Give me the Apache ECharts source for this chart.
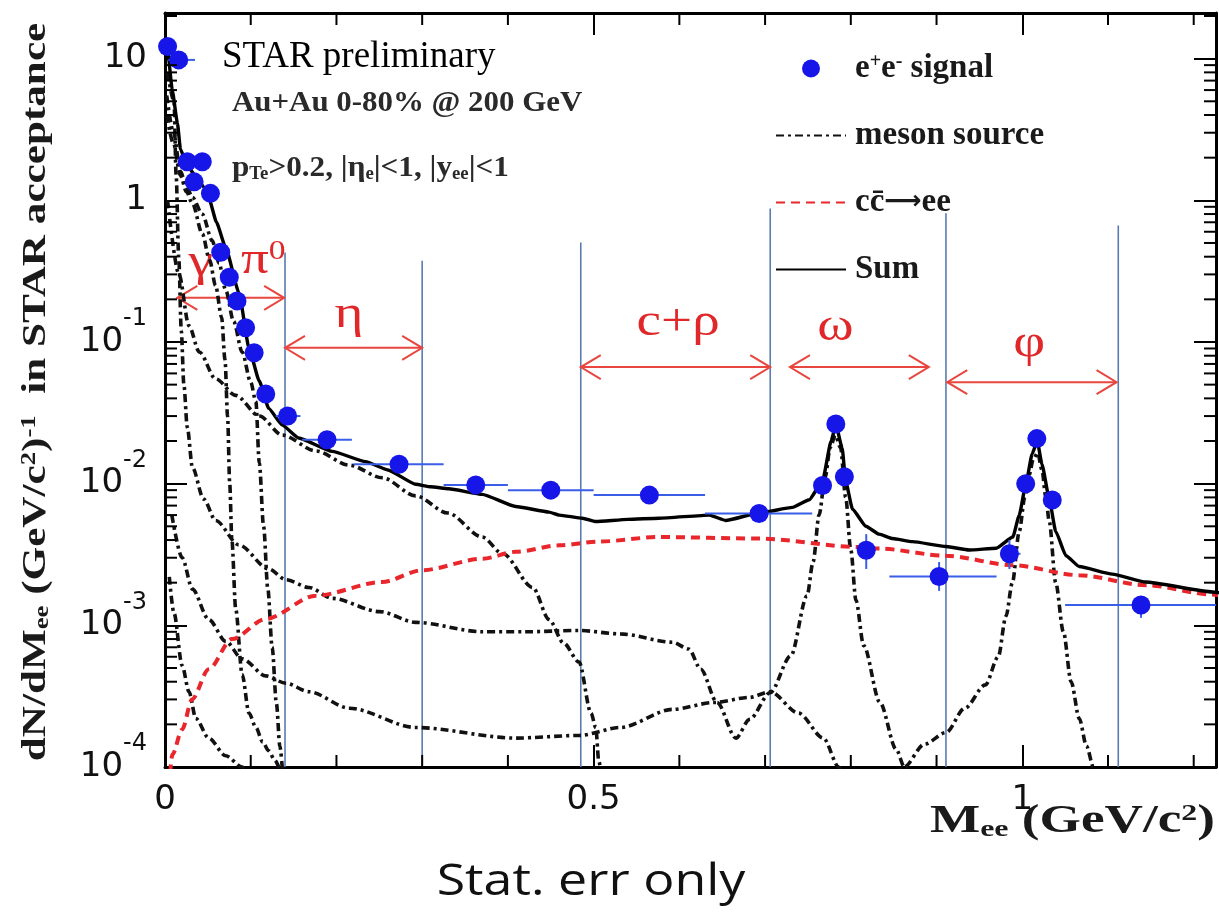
<!DOCTYPE html>
<html>
<head>
<meta charset="utf-8">
<title>Dielectron invariant mass spectrum, Au+Au 200 GeV</title>
<script src="https://cdn.jsdelivr.net/npm/echarts@6/dist/echarts.min.js"></script>
<style>
  html, body { margin: 0; padding: 0; background: #ffffff; }
  #chart { width: 1219px; height: 918px; }
</style>
</head>
<body>
<div id="chart"></div>
<script>
// ---------- e+e- signal (mass in GeV/c^2, dN/dMee) ----------
const signalMass  = [0.003, 0.016, 0.026, 0.034, 0.0435, 0.053, 0.065, 0.075, 0.084, 0.094, 0.104, 0.1175, 0.143, 0.189, 0.273, 0.3625, 0.45, 0.565, 0.693, 0.767, 0.7825, 0.7925, 0.818, 0.903, 0.985, 1.004, 1.017, 1.035, 1.1385];
const signalYield = [12.2, 9.8, 1.87, 1.35, 1.87, 1.12, 0.43, 0.286, 0.195, 0.126, 0.084, 0.043, 0.030, 0.0204, 0.0137, 0.0098, 0.0090, 0.0083, 0.00615, 0.0097, 0.0264, 0.0112, 0.00339, 0.00221, 0.0032, 0.0100, 0.0208, 0.00766, 0.00139];
// bin edges (horizontal bars)
const signalBinLow  = [0.003, 0.004, 0.026, 0.034, 0.0435, 0.053, 0.065, 0.075, 0.084, 0.094, 0.104, 0.1175, 0.129, 0.160, 0.220, 0.325, 0.400, 0.500, 0.630, 0.767, 0.7825, 0.7925, 0.811, 0.845, 0.975, 1.004, 1.017, 1.027, 1.050];
const signalBinHigh = [0.003, 0.035, 0.026, 0.034, 0.0435, 0.053, 0.065, 0.075, 0.084, 0.094, 0.104, 0.1175, 0.158, 0.218, 0.325, 0.400, 0.500, 0.630, 0.755, 0.767, 0.7825, 0.7925, 0.826, 0.970, 0.998, 1.004, 1.017, 1.044, 1.240];
// statistical error range (vertical bars)
const signalErrLow  = [12.2, 9.8, 1.87, 1.35, 1.87, 1.12, 0.43, 0.286, 0.195, 0.126, 0.084, 0.043, 0.030, 0.0204, 0.0137, 0.0098, 0.0090, 0.0083, 0.00615, 0.0097, 0.0264, 0.0112, 0.0025, 0.00175, 0.0025, 0.0100, 0.0208, 0.0072, 0.00113];
const signalErrHigh = [12.2, 9.8, 1.87, 1.35, 1.87, 1.12, 0.43, 0.286, 0.195, 0.126, 0.084, 0.043, 0.030, 0.0204, 0.0137, 0.0098, 0.0090, 0.0083, 0.00615, 0.0097, 0.0264, 0.0112, 0.0044, 0.0028, 0.0040, 0.0100, 0.0208, 0.0082, 0.0016];

// ---------- cocktail sum ----------
const sumMass  = [0, 0.003, 0.0085, 0.0145, 0.018, 0.025, 0.035, 0.045, 0.052, 0.06, 0.071, 0.0865, 0.098, 0.11, 0.121, 0.1365, 0.156, 0.195, 0.234, 0.26, 0.2925, 0.31, 0.331, 0.37, 0.409, 0.448, 0.46, 0.487, 0.5025, 0.54, 0.576, 0.635, 0.654, 0.693, 0.732, 0.7515, 0.767, 0.777, 0.7826, 0.79, 0.794, 0.802, 0.8176, 0.833, 0.8487, 0.872, 0.911, 0.938, 0.9696, 0.989, 0.9965, 1.004, 1.0115, 1.0175, 1.023, 1.0315, 1.039, 1.051, 1.0665, 1.105, 1.144, 1.222, 1.23];
const sumYield = [13, 11.6, 6.0, 3.5, 2.3, 1.8, 1.5, 1.25, 1.0, 0.7, 0.46, 0.22, 0.09, 0.053, 0.034, 0.026, 0.021, 0.0169, 0.0143, 0.0125, 0.0099, 0.0095, 0.0092, 0.0084, 0.0069, 0.0063, 0.006, 0.0057, 0.0054, 0.0056, 0.0057, 0.006, 0.0055, 0.0062, 0.0068, 0.0077, 0.0104, 0.02, 0.026, 0.0178, 0.0104, 0.0066, 0.0050, 0.0044, 0.0041, 0.0039, 0.0036, 0.0034, 0.0035, 0.0042, 0.006, 0.0098, 0.0162, 0.02, 0.0137, 0.0078, 0.0046, 0.0031, 0.0026, 0.0023, 0.00202, 0.00172, 0.0017];

// ---------- open charm ----------
const ccMass  = [0.006, 0.0085, 0.02, 0.0315, 0.051, 0.078, 0.1175, 0.176, 0.253, 0.30, 0.37, 0.409, 0.46, 0.506, 0.576, 0.693, 0.81, 0.833, 0.911, 0.988, 1.066, 1.144, 1.222, 1.23];
const ccYield = [9e-5, 1.22e-4, 1.84e-4, 3.0e-4, 4.9e-4, 8.0e-4, 1.11e-3, 1.62e-3, 2.02e-3, 2.45e-3, 2.95e-3, 3.3e-3, 3.67e-3, 3.9e-3, 4.2e-3, 4.1e-3, 3.57e-3, 3.48e-3, 3.1e-3, 2.66e-3, 2.26e-3, 1.92e-3, 1.65e-3, 1.63e-3];

// ---------- meson sources ----------
const mesonAMass  = [0.002, 0.01, 0.018, 0.025, 0.032, 0.0435, 0.055, 0.063, 0.071, 0.08, 0.09, 0.1, 0.106, 0.11, 0.115, 0.12, 0.125, 0.13, 0.134, 0.137];
const mesonAYield = [5.5, 3.0, 1.6, 1.25, 1.05, 0.8, 0.52, 0.36, 0.23, 0.14, 0.085, 0.052, 0.038, 0.014, 5e-3, 1.8e-3, 7e-4, 2.8e-4, 1.4e-4, 9.5e-5];

const mesonBMass  = [0.002, 0.01, 0.018, 0.025, 0.032, 0.0435, 0.052, 0.059, 0.066, 0.07, 0.073, 0.0755, 0.078, 0.0825, 0.09, 0.098, 0.106, 0.114, 0.121, 0.128, 0.134];
const mesonBYield = [4.0, 2.5, 1.5, 1.15, 0.95, 0.58, 0.38, 0.25, 0.15, 0.075, 0.03, 0.01, 4e-3, 1.3e-3, 4.5e-4, 2.4e-4, 1.9e-4, 1.5e-4, 1.3e-4, 1.12e-4, 9.5e-5];

const mesonCMass  = [0.003, 0.0105, 0.013, 0.016, 0.019, 0.022, 0.026, 0.032, 0.045, 0.059, 0.086, 0.121, 0.141, 0.168, 0.195, 0.25, 0.2925, 0.37, 0.42, 0.483, 0.531, 0.592, 0.611, 0.625, 0.644, 0.666, 0.682, 0.706, 0.73, 0.749, 0.756, 0.763, 0.77, 0.776, 0.782, 0.788, 0.794, 0.8, 0.806, 0.815, 0.834, 0.853, 0.8625, 0.868];
const mesonCYield = [8, 5.0, 1.5, 0.4, 0.12, 0.05, 0.025, 0.013, 0.0078, 5.5e-3, 3.7e-3, 2.5e-3, 2.1e-3, 1.85e-3, 1.55e-3, 1.25e-3, 1.05e-3, 9.0e-4, 9.0e-4, 9.2e-4, 8.7e-4, 7.6e-4, 6.8e-4, 4.9e-4, 2.85e-4, 1.6e-4, 2.17e-4, 3.35e-4, 6.1e-4, 1.62e-3, 2.8e-3, 6e-3, 0.011, 0.018, 0.022, 0.018, 8e-3, 3.4e-3, 1.5e-3, 7.2e-4, 2.85e-4, 1.33e-4, 1.0e-4, 8e-5];

const mesonEtaMass  = [0.003, 0.0163, 0.028, 0.04, 0.059, 0.0825, 0.11, 0.137, 0.176, 0.215, 0.2535, 0.2925, 0.33, 0.37, 0.394, 0.429, 0.448, 0.465, 0.483, 0.497, 0.5025, 0.506, 0.51];
const mesonEtaYield = [1.0, 0.3, 0.13, 0.085, 0.055, 0.042, 0.03, 0.022, 0.017, 0.0135, 0.011, 0.0082, 0.0062, 0.0042, 0.0032, 0.00185, 0.0011, 7.5e-4, 5.5e-4, 2.4e-4, 1.9e-4, 1.1e-4, 8e-5];

const mesonDMass  = [0.005, 0.0105, 0.02, 0.028, 0.036, 0.051, 0.071, 0.09, 0.096];
const mesonDYield = [2.2e-3, 1.22e-3, 5.2e-4, 3.4e-4, 2.2e-4, 1.6e-4, 1.2e-4, 1.0e-4, 9e-5];

const mesonFMass  = [0.008, 0.02, 0.032, 0.051, 0.071, 0.09, 0.1175, 0.141, 0.168, 0.215, 0.2925, 0.409, 0.483, 0.531, 0.592, 0.64, 0.682, 0.706, 0.739, 0.768, 0.786, 0.792];
const mesonFYield = [6e-3, 3.0e-3, 1.8e-3, 1.1e-3, 7.7e-4, 5.8e-4, 4.4e-4, 3.9e-4, 3.4e-4, 2.6e-4, 1.9e-4, 1.6e-4, 1.67e-4, 1.9e-4, 2.55e-4, 2.85e-4, 3.1e-4, 3.4e-4, 2.4e-4, 1.6e-4, 1.0e-4, 8e-5];

const mesonPhiMass  = [0.85, 0.862, 0.886, 0.911, 0.933, 0.957, 0.972, 0.981, 0.9885, 0.9965, 1.003, 1.008, 1.013, 1.018, 1.023, 1.0275, 1.0315, 1.039, 1.048, 1.057, 1.0665, 1.075, 1.083, 1.09];
const mesonPhiYield = [8e-5, 1.0e-4, 1.45e-4, 1.75e-4, 2.6e-4, 3.8e-4, 6.0e-4, 1.16e-3, 2.0e-3, 4.6e-3, 8e-3, 0.0115, 0.015, 0.0165, 0.0125, 8e-3, 5.4e-3, 2.0e-3, 9e-4, 4e-4, 2.2e-4, 1.4e-4, 1.0e-4, 8e-5];

// ---------- mass windows ----------
const windowEdgeMass = [0.14, 0.30, 0.485, 0.706, 0.911, 1.112];
const windowEdgeTop  = [0.428, 0.375, 0.504, 0.877, 0.809, 0.665];
const arrowFrom  = [0.0144, 0.14, 0.485, 0.729, 0.9125];
const arrowTo    = [0.139, 0.30, 0.706, 0.891, 1.11];
const arrowLevel = [0.205, 0.091, 0.0665, 0.0665, 0.052];
const windowLabelText  = ['γ', 'π{sup|0}', 'η', 'c+ρ', 'ω', 'φ'];
const windowLabelMass  = [0.0417, 0.1146, 0.2147, 0.5986, 0.782, 1.008];
const windowLabelLevel = [0.36, 0.375, 0.155, 0.136, 0.126, 0.0968];

// ---------- axis tick values ----------
const xMinorTickMass = [0.1, 0.2, 0.3, 0.4, 0.6, 0.7, 0.8, 0.9, 1.1, 1.2];
const yMinorTickValues = [];
for (let e = -4; e <= 1; e++) {
  for (let m = 2; m <= 9; m++) {
    const v = m * Math.pow(10, e);
    if (v < 21) yMinorTickValues.push(v);
  }
}

const SERIF = '"Liberation Serif", "Times New Roman", serif';
const TICK_FONT = '"DejaVu Sans", "Liberation Sans", sans-serif';
const DASH_DOT = [8, 4, 3, 4];
const Y_MIN = 1e-4, Y_MAX = 21, X_MAX = 1.226;

const zip = (xs, ys) => xs.map((x, i) => [x, ys[i]]);

const mesonSets = [
  [mesonCMass, mesonCYield], [mesonBMass, mesonBYield], [mesonAMass, mesonAYield],
  [mesonEtaMass, mesonEtaYield], [mesonDMass, mesonDYield], [mesonFMass, mesonFYield],
  [mesonPhiMass, mesonPhiYield]
];

const mesonSeries = mesonSets.map(([xs, ys]) => ({
  name: 'meson source', type: 'line', data: zip(xs, ys),
  showSymbol: false, symbol: 'none', smooth: 0.3, smoothMonotone: 'x',
  lineStyle: { color: '#111', width: 3.6, type: DASH_DOT, cap: 'butt' },
  itemStyle: { color: '#111' }, z: 2, silent: true
}));

const legendLabels = {
  'e+e- signal': 'e{sup|+}e{sup|-} signal',
  'meson source': 'meson source',
  'cc→ee': 'cc\u0304{arrow|\u27F6}ee',
  'Sum': 'Sum'
};

const chart = echarts.init(document.getElementById('chart'));

const frameAxisLine = { show: true, onZero: false, lineStyle: { color: '#000', width: 3 } };
const majorTick = { show: true, inside: true, length: 22, lineStyle: { color: '#000', width: 2 } };
const hiddenSymbol = { opacity: 0 };

function tickLine(x1, y1, x2, y2) {
  return { type: 'line', shape: { x1, y1, x2, y2 }, style: { stroke: '#000', lineWidth: 2 } };
}

const option = {
  animation: false,
  backgroundColor: '#ffffff',
  grid: { left: 165, right: 3, top: 13, bottom: 151, containLabel: false },
  xAxis: [
    {
      type: 'value', min: 0, max: X_MAX, interval: 0.5, position: 'bottom',
      axisLine: frameAxisLine, axisTick: majorTick, splitLine: { show: false },
      axisLabel: {
        margin: 16, color: '#111', fontSize: 34, fontFamily: TICK_FONT, showMaxLabel: false,
        formatter: v => (Math.abs(v * 2 - Math.round(v * 2)) < 1e-6 ? String(Math.round(v * 2) / 2) : '')
      }
    },
    {
      type: 'value', min: 0, max: X_MAX, interval: 0.5, position: 'top',
      axisLine: frameAxisLine, axisTick: majorTick, splitLine: { show: false }, axisLabel: { show: false }
    }
  ],
  yAxis: [
    {
      type: 'log', logBase: 10, min: Y_MIN, max: Y_MAX, position: 'left',
      axisLine: frameAxisLine, axisTick: majorTick, splitLine: { show: false },
      axisLabel: {
        margin: 18, color: '#111', fontSize: 34, fontFamily: TICK_FONT, showMaxLabel: false,
        formatter: v => {
          const l = Math.log10(v), e = Math.round(l);
          if (Math.abs(l - e) > 1e-6) return '';
          return e >= 0 ? String(Math.pow(10, e)) : '10{sup|' + e + '}';
        },
        rich: { sup: { fontSize: 24, fontFamily: TICK_FONT, color: '#111', verticalAlign: 'top', padding: [0, 0, 46, 0] } }
      }
    },
    {
      type: 'log', logBase: 10, min: Y_MIN, max: Y_MAX, position: 'right',
      axisLine: frameAxisLine, axisTick: majorTick, splitLine: { show: false }, axisLabel: { show: false }
    }
  ],
  legend: {
    data: [
      { name: 'e+e- signal', icon: 'circle' },
      { name: 'meson source', itemStyle: hiddenSymbol },
      { name: 'cc→ee', itemStyle: hiddenSymbol },
      { name: 'Sum', itemStyle: hiddenSymbol }
    ],
    orient: 'vertical', left: 770, top: 47, itemWidth: 70, itemHeight: 18, itemGap: 34,
    selectedMode: false,
    formatter: name => legendLabels[name],
    textStyle: {
      fontFamily: SERIF, fontWeight: 'bold', fontSize: 33, color: '#1a1a1a', padding: [0, 0, 0, 4],
      rich: {
        sup: { fontFamily: SERIF, fontWeight: 'bold', fontSize: 20, color: '#1a1a1a', verticalAlign: 'top' },
        arrow: { fontFamily: '"DejaVu Sans", sans-serif', fontSize: 26, color: '#1a1a1a' }
      }
    }
  },
  series: [
    // mass window boundaries
    {
      type: 'custom', silent: true, z: 1, clip: true,
      data: zip(windowEdgeMass, windowEdgeTop),
      renderItem: (params, api) => {
        const top = api.coord([api.value(0), api.value(1)]);
        const bottom = api.coord([api.value(0), Y_MIN]);
        return { type: 'line', shape: { x1: top[0], y1: top[1], x2: bottom[0], y2: bottom[1] },
                 style: { stroke: '#5a7bb0', lineWidth: 1.6 } };
      }
    },
    // mass window arrows
    {
      type: 'custom', silent: true, z: 1, clip: false,
      data: arrowFrom.map((a, i) => [a, arrowLevel[i], arrowTo[i]]),
      renderItem: (params, api) => {
        const a = api.coord([api.value(0), api.value(1)]);
        const b = api.coord([api.value(2), api.value(1)]);
        const h = 20, w = 12;
        const st = { stroke: '#e8463e', lineWidth: 2, fill: null };
        return { type: 'group', children: [
          { type: 'line', shape: { x1: a[0], y1: a[1], x2: b[0], y2: b[1] }, style: st },
          { type: 'polyline', shape: { points: [[a[0] + h, a[1] - w], [a[0], a[1]], [a[0] + h, a[1] + w]] }, style: st },
          { type: 'polyline', shape: { points: [[b[0] - h, b[1] - w], [b[0], b[1]], [b[0] - h, b[1] + w]] }, style: st }
        ] };
      }
    },
    // mass window labels
    {
      type: 'custom', silent: true, z: 1, clip: false,
      data: zip(windowLabelMass, windowLabelLevel),
      renderItem: (params, api) => {
        const c = api.coord([api.value(0), api.value(1)]);
        return { type: 'text', x: c[0], y: c[1], scaleX: 1.2, style: {
          text: windowLabelText[params.dataIndex], fill: '#e0282a',
          fontFamily: SERIF, fontSize: 46, align: 'center', verticalAlign: 'middle',
          rich: { sup: { fontFamily: SERIF, fontSize: 28, fill: '#e0282a', verticalAlign: 'top' } }
        } };
      }
    },
    // minor ticks on x frame
    {
      type: 'custom', silent: true, z: 10, clip: false,
      data: xMinorTickMass.map(v => [v, 1]),
      renderItem: (params, api) => {
        const cs = params.coordSys;
        const x = api.coord([api.value(0), 1])[0];
        const yb = cs.y + cs.height, yt = cs.y;
        return { type: 'group', children: [tickLine(x, yb, x, yb - 12), tickLine(x, yt, x, yt + 12)] };
      }
    },
    // minor ticks on y frame
    {
      type: 'custom', silent: true, z: 10, clip: false,
      data: yMinorTickValues.map(v => [0.5, v]),
      renderItem: (params, api) => {
        const cs = params.coordSys;
        const y = api.coord([0.5, api.value(1)])[1];
        const xl = cs.x, xr = cs.x + cs.width;
        return { type: 'group', children: [tickLine(xl, y, xl + 12, y), tickLine(xr, y, xr - 12, y)] };
      }
    },
    ...mesonSeries,
    {
      name: 'cc→ee', type: 'line', data: zip(ccMass, ccYield),
      showSymbol: false, symbol: 'none', smooth: 0.3, smoothMonotone: 'x',
      lineStyle: { color: '#e8262c', width: 4, type: [9, 6] }, itemStyle: { color: '#e8262c' }, z: 3, silent: true
    },
    {
      name: 'Sum', type: 'line', data: zip(sumMass, sumYield),
      showSymbol: false, symbol: 'none', smooth: 0.15, smoothMonotone: 'x',
      lineStyle: { color: '#000', width: 3.4 }, itemStyle: { color: '#000' }, z: 4, silent: true
    },
    // error bars
    {
      type: 'custom', silent: true, z: 5, clip: true,
      data: signalMass.map((m, i) => [m, signalYield[i], signalBinLow[i], signalBinHigh[i], signalErrLow[i], signalErrHigh[i]]),
      encode: { x: 0, y: 1 },
      renderItem: (params, api) => {
        const x = api.value(0), y = api.value(1);
        const st = { stroke: '#3b5ee8', lineWidth: 2 };
        const kids = [];
        if (api.value(3) > api.value(2)) {
          const l = api.coord([api.value(2), y]), r = api.coord([api.value(3), y]);
          kids.push({ type: 'line', shape: { x1: l[0], y1: l[1], x2: r[0], y2: r[1] }, style: st });
        }
        if (api.value(5) > api.value(4)) {
          const t = api.coord([x, api.value(5)]), b = api.coord([x, api.value(4)]);
          kids.push({ type: 'line', shape: { x1: t[0], y1: t[1], x2: b[0], y2: b[1] }, style: st });
        }
        return { type: 'group', children: kids };
      }
    },
    {
      name: 'e+e- signal', type: 'scatter', data: zip(signalMass, signalYield),
      symbol: 'circle', symbolSize: 19, itemStyle: { color: '#1616e8', opacity: 1 }, z: 6, silent: true
    }
  ],
  graphic: [
    { type: 'text', x: 222, y: 57, silent: true,
      style: { text: 'STAR preliminary', fontFamily: SERIF, fontSize: 37, fill: '#000', align: 'left', verticalAlign: 'middle' } },
    { type: 'text', x: 232, y: 103, scaleX: 1.03, silent: true,
      style: { text: 'Au+Au 0-80% @ 200 GeV', fontFamily: SERIF, fontWeight: 'bold', fontSize: 30, fill: '#2a2a2a', align: 'left', verticalAlign: 'middle' } },
    { type: 'text', x: 232, y: 168, scaleX: 1.04, silent: true,
      style: { text: 'p{sub|Te}>0.2, |η{sub|e}|<1, |y{sub|ee}|<1', fontFamily: SERIF, fontWeight: 'bold', fontSize: 30, fill: '#2a2a2a', align: 'left', verticalAlign: 'middle',
               rich: { sub: { fontFamily: SERIF, fontWeight: 'bold', fontSize: 18, fill: '#2a2a2a', verticalAlign: 'bottom', padding: [8, 0, 0, 0] } } } },
    { type: 'text', x: 36, y: 392, rotation: Math.PI / 2, scaleX: 1.27, silent: true,
      style: { text: 'dN/dM{sub|ee} (GeV/c{sup|2}){sup|-1}  in STAR acceptance', fontFamily: SERIF, fontWeight: 'bold', fontSize: 34, fill: '#1a1a1a', align: 'center', verticalAlign: 'middle',
               rich: {
                 sub: { fontFamily: SERIF, fontWeight: 'bold', fontSize: 21, fill: '#1a1a1a', verticalAlign: 'bottom', padding: [10, 0, 0, 0] },
                 sup: { fontFamily: SERIF, fontWeight: 'bold', fontSize: 21, fill: '#1a1a1a', verticalAlign: 'top' }
               } } },
    { type: 'text', x: 1215, y: 822, scaleX: 1.33, silent: true,
      style: { text: 'M{sub|ee} (GeV/c{sup|2})', fontFamily: SERIF, fontWeight: 'bold', fontSize: 40, fill: '#1a1a1a', align: 'right', verticalAlign: 'middle',
               rich: {
                 sub: { fontFamily: SERIF, fontWeight: 'bold', fontSize: 24, fill: '#1a1a1a', verticalAlign: 'bottom', padding: [12, 0, 0, 0] },
                 sup: { fontFamily: SERIF, fontWeight: 'bold', fontSize: 24, fill: '#1a1a1a', verticalAlign: 'top' }
               } } },
    { type: 'text', x: 591, y: 882, scaleX: 1.18, silent: true,
      style: { text: 'Stat. err only', fontFamily: '"Open Sans", sans-serif', fontSize: 44, fill: '#111', align: 'center', verticalAlign: 'middle' } }
  ]
};

chart.setOption(option);
</script>
</body>
</html>
